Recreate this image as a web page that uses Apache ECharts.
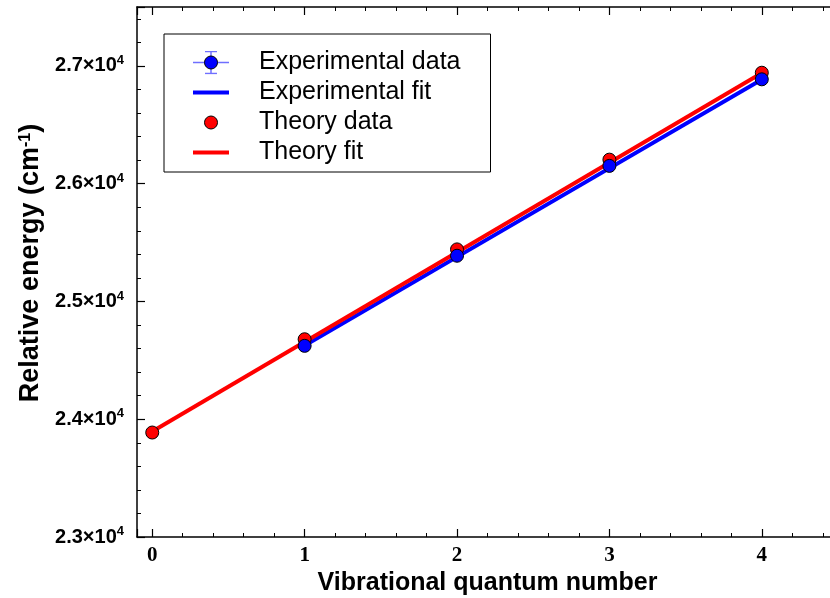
<!DOCTYPE html>
<html>
<head>
<meta charset="utf-8">
<script src="https://cdn.jsdelivr.net/npm/echarts@6/dist/echarts.min.js"></script>
<style>html,body{margin:0;padding:0;background:#fff}#c{width:830px;height:598px}</style>
</head>
<body>
<div id="c"></div>
<script>
// ---- data ----
const expX = [1, 2, 3, 4];
const expY = [24623, 25388, 26151, 26886];
const theoryX = [0, 1, 2, 3, 4];
const theoryY = [23887, 24679, 25442, 26204, 26942];
const expFitX = [1, 4];
const expFitY = [24625, 26885];
const theoryFitX = [0, 4];
const theoryFitY = [23895, 26940];
const seriesNames = ['Experimental data', 'Experimental fit', 'Theory data', 'Theory fit'];
const xTicks = [0, 1, 2, 3, 4];
const yTicks = [23000, 24000, 25000, 26000, 27000];

const pair = (xs, ys) => xs.map((x, i) => [x, ys[i]]);
const SANS = 'Liberation Sans, Arial, sans-serif';
const SERIF = 'Liberation Serif, Times New Roman, serif';

function svgIcon(inner) {
  const svg = '<svg xmlns="http://www.w3.org/2000/svg" width="61" height="24" viewBox="0 0 61 24">' + inner + '</svg>';
  return 'image://data:image/svg+xml;charset=utf-8,' + encodeURIComponent(svg);
}
const icons = [
  svgIcon('<line x1="0" y1="12" x2="36" y2="12" stroke="#6f6fff" stroke-width="1.5"/><line x1="18" y1="1" x2="18" y2="23" stroke="#6f6fff" stroke-width="1.5"/><line x1="12" y1="1" x2="24" y2="1" stroke="#6f6fff" stroke-width="1.5"/><line x1="12" y1="23" x2="24" y2="23" stroke="#6f6fff" stroke-width="1.5"/><circle cx="18" cy="12" r="6.5" fill="#0000ff" stroke="#000" stroke-width="1"/>'),
  svgIcon('<rect x="0" y="10" width="36" height="4" fill="#0000ff"/>'),
  svgIcon('<circle cx="18" cy="12" r="6.5" fill="#ff0000" stroke="#000" stroke-width="1"/>'),
  svgIcon('<rect x="0" y="10" width="36" height="4" fill="#ff0000"/>')
];

const chart = echarts.init(document.getElementById('c'), null, {renderer: 'canvas'});

const xCommon = {
  type: 'value', min: -0.1, max: 4.5, minInterval: 1, maxInterval: 1,
  splitLine: {show: false},
  axisLine: {show: true, onZero: false, lineStyle: {color: '#000', width: 1.5}},
  axisTick: {show: true, inside: true, length: 8, lineStyle: {color: '#000', width: 1.2}},
  minorTick: {show: true, splitNumber: 5, length: 4, lineStyle: {color: '#000', width: 1}},
};

const option = {
  animation: false,
  backgroundColor: '#fff',
  grid: {left: 137, top: 7, width: 701, height: 530, containLabel: false, outerBoundsMode: 'none'},
  legend: {
    orient: 'vertical', left: 164, top: 34,
    data: seriesNames.map((n, i) => ({name: n, icon: icons[i]})),
    itemWidth: 61, itemHeight: 24, itemGap: 5,
    padding: [16, 30, 7, 29],
    borderColor: '#000', borderWidth: 1, backgroundColor: '#fff',
    textStyle: {fontFamily: SANS, fontSize: 25, color: '#000'},
    selectedMode: false
  },
  xAxis: [
    Object.assign({}, xCommon, {
      position: 'bottom',
      name: 'Vibrational quantum number', nameLocation: 'middle', nameGap: 29,
      nameTextStyle: {fontFamily: SANS, fontSize: 25, fontWeight: 'bold', color: '#000'},
      axisLabel: {
        show: true, margin: 8, color: '#000', fontFamily: SERIF, fontWeight: 'bold', fontSize: 21,
        formatter: v => (xTicks.indexOf(v) >= 0 ? String(v) : '')
      }
    }),
    Object.assign({}, xCommon, {
      position: 'top', axisLabel: {show: false}
    })
  ],
  yAxis: {
    type: 'value', min: 23000, max: 27500, interval: 1000,
    splitLine: {show: false},
    axisLine: {show: true, onZero: false, lineStyle: {color: '#000', width: 1.5}},
    axisTick: {show: true, inside: true, length: 8, lineStyle: {color: '#000', width: 1.2}},
    minorTick: {show: true, splitNumber: 5, length: 4, lineStyle: {color: '#000', width: 1}},
    name: 'Relative energy (cm{s|-1})', nameLocation: 'middle', nameGap: 90, nameRotate: 90,
    nameTextStyle: {
      fontFamily: SANS, fontSize: 27, fontWeight: 'bold', color: '#000', padding: [0, 0, 0, 18],
      rich: {s: {fontFamily: SANS, fontSize: 16, fontWeight: 'bold', color: '#000', verticalAlign: 'top', lineHeight: 16}}
    },
    axisLabel: {
      show: true, margin: 13, color: '#000',
      formatter: v => (yTicks.indexOf(v) >= 0 ? '{b|' + (v / 10000).toFixed(1) + '×10}{s|4}' : ''),
      rich: {
        b: {fontFamily: SANS, fontSize: 20, fontWeight: 'bold', color: '#000', lineHeight: 24},
        s: {fontFamily: SANS, fontSize: 13, fontWeight: 'bold', color: '#000', verticalAlign: 'top', lineHeight: 13}
      }
    }
  },
  series: [
    {
      name: seriesNames[0], type: 'scatter', data: pair(expX, expY), z: 5,
      symbol: 'circle', symbolSize: 13,
      itemStyle: {color: '#0000ff', borderColor: '#000', borderWidth: 1, opacity: 1}
    },
    {
      name: seriesNames[1], type: 'line', data: pair(expFitX, expFitY), z: 2,
      symbol: 'none', lineStyle: {color: '#0000ff', width: 4}, itemStyle: {color: '#0000ff'}
    },
    {
      name: seriesNames[2], type: 'scatter', data: pair(theoryX, theoryY), z: 4,
      symbol: 'circle', symbolSize: 13,
      itemStyle: {color: '#ff0000', borderColor: '#000', borderWidth: 1, opacity: 1}
    },
    {
      name: seriesNames[3], type: 'line', data: pair(theoryFitX, theoryFitY), z: 3,
      symbol: 'none', lineStyle: {color: '#ff0000', width: 4}, itemStyle: {color: '#ff0000'}
    }
  ]
};
chart.setOption(option);
</script>
</body>
</html>
